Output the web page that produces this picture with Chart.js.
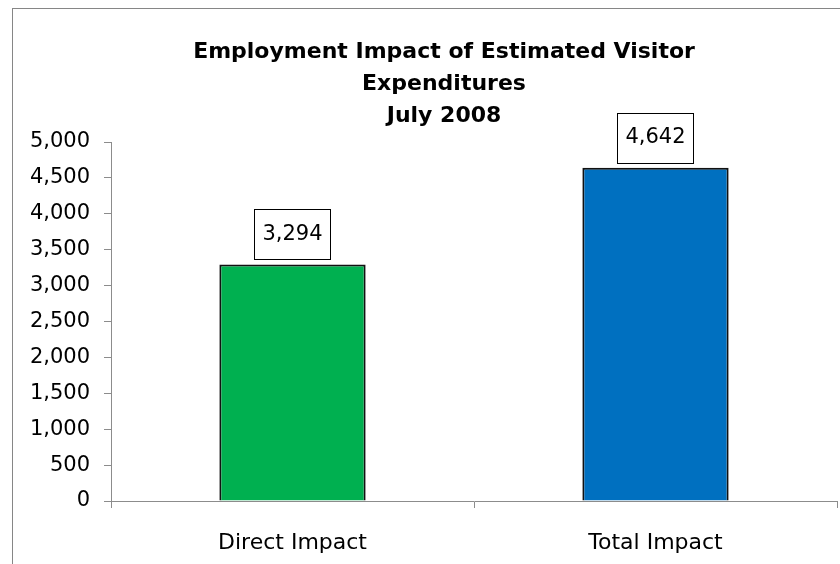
<!DOCTYPE html>
<html>
<head>
<meta charset="utf-8">
<script src="https://cdn.jsdelivr.net/npm/chart.js@4.4.0/dist/chart.umd.min.js"></script>
<style>
  html, body { margin: 0; padding: 0; overflow: hidden; background: #fff; }
  #frame { position: absolute; left: 12px; top: 8px; width: 900px; height: 700px; border: 1px solid #868686; }
  #wrap { position: absolute; left: 0; top: 0; width: 888px; height: 564px; }
</style>
</head>
<body>
<div id="frame"></div>
<div id="wrap"><canvas id="chartEmploi" width="888" height="564"></canvas></div>
<script>
const categories = ['Direct Impact', 'Total Impact'];
const valeurs = [3294, 4642];
const couleurs = ['#00B050', '#0070C0'];
const titre = ['Employment Impact of Estimated Visitor', 'Expenditures', 'July 2008'];

const fmt = v => v.toLocaleString('en-US');

// etiquettes encadrees au dessus des barres
const etiquettes = {
    id: 'etiquettes',
    afterDatasetsDraw(chart) {
        const ctx = chart.ctx;
        const meta = chart.getDatasetMeta(0);
        ctx.save();
        ctx.font = '21px "DejaVu Sans"';
        ctx.textAlign = 'center';
        ctx.textBaseline = 'middle';
        meta.data.forEach((bar, i) => {
            const txt = fmt(valeurs[i]);
            const w = ctx.measureText(txt).width + 16;
            const h = 50;
            const cy = bar.y - 30;
            ctx.fillStyle = '#fff';
            ctx.fillRect(bar.x - w / 2, cy - h / 2, w, h);
            ctx.strokeStyle = '#000';
            ctx.lineWidth = 1;
            ctx.strokeRect(Math.round(bar.x - w / 2) + 0.5, Math.round(cy - h / 2) + 0.5, Math.round(w), h);
            ctx.fillStyle = '#000';
            ctx.fillText(txt, bar.x, cy);
        });
        ctx.restore();
    }
};

const canvas = document.getElementById('chartEmploi');
const ctx = canvas.getContext('2d');

new Chart(ctx, {
    type: 'bar',
    data: {
        labels: categories,
        datasets: [{
            data: valeurs,
            backgroundColor: couleurs,
            borderColor: '#111',
            borderWidth: 2,
            categoryPercentage: 1,
            barPercentage: 0.403
        }]
    },
    options: {
        responsive: false,
        animation: false,
        layout: { padding: 0 },
        plugins: {
            legend: { display: false },
            tooltip: { enabled: false },
            title: {
                display: true,
                text: titre,
                color: '#000',
                font: { family: '"DejaVu Sans"', size: 22, weight: 'bold', lineHeight: 32 / 22 },
                padding: { top: 36, bottom: 10 }
            }
        },
        scales: {
            x: {
                grid: { offset: true, drawOnChartArea: false, tickLength: 7, color: '#8c8c8c' },
                border: { color: '#8c8c8c' },
                ticks: { color: '#000', padding: 22, font: { family: '"DejaVu Sans"', size: 22 } },
                afterFit(s) { s.height = 63; }
            },
            y: {
                min: 0,
                max: 5000,
                grid: { drawOnChartArea: false, tickLength: 7, color: '#8c8c8c' },
                border: { color: '#8c8c8c' },
                ticks: {
                    stepSize: 500,
                    color: '#000',
                    padding: 14,
                    font: { family: '"DejaVu Sans"', size: 21 },
                    callback: v => fmt(v)
                },
                afterFit(s) { s.width = 111; }
            },
            marge: {
                position: 'right',
                grid: { display: false },
                border: { display: false },
                ticks: { display: false },
                afterFit(s) { s.width = 51; }
            }
        }
    },
    plugins: [etiquettes]
});
</script>
</body>
</html>
